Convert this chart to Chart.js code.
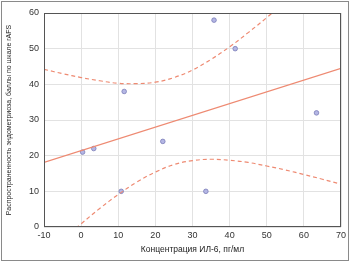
<!DOCTYPE html>
<html>
<head>
<meta charset="utf-8">
<script src="https://cdn.jsdelivr.net/npm/chart.js@4/dist/chart.umd.min.js"></script>
<style>
  html, body { margin: 0; padding: 0; background: #fff; }
  #wrap { width: 350px; height: 263px; }
</style>
</head>
<body>
<div id="wrap"><canvas id="c" width="350" height="263"></canvas></div>
<script>
// ================= DATA =================
const pointsX = [0.4, 3.4, 10.8, 11.6, 22, 33.6, 35.8, 41.5, 63.4];
const pointsY = [21, 22, 10, 38, 24, 10, 58, 50, 32];

const fitX = [-10, 70];
const fitY = [18.1, 44.5];

const bandX = [-10, -5, 0, 5, 10, 15, 20, 25, 30, 35, 40, 45, 50, 55, 60, 65, 70];
const upperY = [44.2, 43.0, 41.9, 41.0, 40.3, 40.2, 40.6, 41.9, 44.0, 47.0, 50.5, 54.5, 58.7, 63.1, null, null, null];
const lowerY = [-8.0, -3.5, 0.9, 5.2, 9.1, 12.6, 15.4, 17.5, 18.6, 19.0, 18.7, 18.1, 17.1, 16.0, 14.7, 13.4, 12.0];

const xTitle = 'Концентрация ИЛ-6, пг/мл';
const yTitle = 'Распространенность эндометриоза, баллы по шкале rAFS';

// ================= HELPERS =================
const zip = (xs, ys) => xs.map((x, i) => ({ x, y: ys[i] }));
const lineColor = '#ee8a72';
const font = { family: 'Liberation Sans, Arial, sans-serif', size: 9 };
const titleFont = { family: 'Liberation Sans, Arial, sans-serif', size: 8.5 };

// outer frame round the picture
const framePlugin = {
    id: 'frame',
    afterDraw(chart) {
        const ctx = chart.ctx;
        ctx.save();
        ctx.strokeStyle = '#8a8a8a';
        ctx.lineWidth = 1;
        ctx.strokeRect(1.5, 1.5, chart.width - 3, chart.height - 4);
        const a = chart.chartArea;
        ctx.strokeStyle = '#555';
        ctx.strokeRect(a.left + 0.5, a.top + 0.5, a.right - a.left - 1, a.bottom - a.top - 1);
        ctx.restore();
    }
};

// ================= CHART =================
new Chart(document.getElementById('c'), {
    type: 'scatter',
    data: {
        datasets: [
            {
                type: 'line',
                data: zip(bandX, upperY),
                borderColor: lineColor,
                borderWidth: 1.2,
                borderDash: [4, 3],
                pointRadius: 0,
                tension: 0.4,
                fill: false
            },
            {
                type: 'line',
                data: zip(bandX, lowerY),
                borderColor: lineColor,
                borderWidth: 1.2,
                borderDash: [4, 3],
                pointRadius: 0,
                tension: 0.4,
                fill: false
            },
            {
                type: 'line',
                data: zip(fitX, fitY),
                borderColor: lineColor,
                borderWidth: 1.3,
                pointRadius: 0,
                fill: false
            },
            {
                data: zip(pointsX, pointsY),
                backgroundColor: '#b4b6e4',
                borderColor: '#7a7cb8',
                borderWidth: 0.8,
                pointRadius: 2.3
            }
        ]
    },
    options: {
        responsive: false,
        animation: false,
        layout: { padding: { top: 13, right: 9, left: 5, bottom: 8 } },
        plugins: {
            legend: { display: false },
            tooltip: { enabled: false }
        },
        scales: {
            x: {
                min: -10,
                max: 70,
                ticks: { stepSize: 10, color: '#333', font, padding: 3 },
                grid: { color: '#e2e2e2', drawTicks: false },
                border: { display: false },
                title: { display: true, text: xTitle, color: '#222', font: titleFont, padding: 0 },
                afterFit: s => { s.height = 28; }
            },
            y: {
                min: 0,
                max: 60,
                ticks: { stepSize: 10, color: '#333', font, padding: 5 },
                grid: { color: '#e2e2e2', drawTicks: false },
                border: { display: false },
                title: { display: true, text: yTitle, color: '#222', font: { ...titleFont, size: 7 }, padding: 0 },
                afterFit: s => { s.width = 39; }
            }
        }
    },
    plugins: [framePlugin]
});
</script>
</body>
</html>
